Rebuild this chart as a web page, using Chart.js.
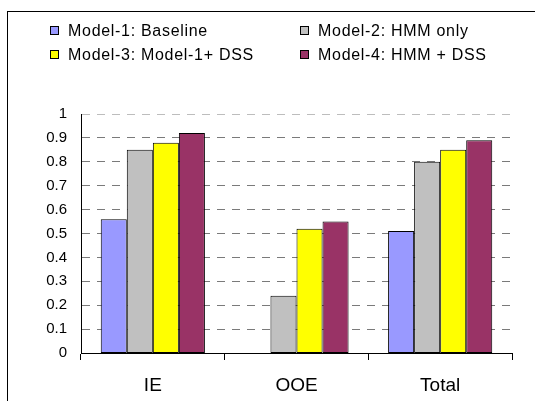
<!DOCTYPE html>
<html>
<head>
<meta charset="utf-8">
<script src="https://cdn.jsdelivr.net/npm/chart.js@4"></script>
<style>
  html, body { margin: 0; padding: 0; background: #fff; overflow: hidden; }
  #wrap { position: relative; width: 535px; height: 401px; font-family: "Liberation Sans", Arial, sans-serif; }
  #cornice { position: absolute; left: 7px; top: 11px; width: 560px; height: 420px; border: 1px solid #000; box-sizing: border-box; }
  #grafico { position: absolute; left: 0; top: 0; }
  .voce { position: absolute; font-size: 16px; color: #000; line-height: 18px; height: 18px; white-space: nowrap; letter-spacing: 0.7px; }
  .voce span { position: absolute; left: 0; top: 4px; width: 9px; height: 9px; border: 1px solid #000; box-sizing: border-box; }
  .voce b { position: absolute; left: 18px; top: 0; font-weight: normal; }
</style>
</head>
<body>
<div id="wrap">
  <div id="cornice"></div>
  <canvas id="grafico" width="535" height="401"></canvas>
  <div id="legenda"></div>
</div>
<script>
// Categorie e valori
const categorie = ['IE', 'OOE', 'Total'];
const nomiModelli = ['Model-1: Baseline', 'Model-2: HMM only', 'Model-3: Model-1+ DSS', 'Model-4: HMM + DSS'];
const model1 = [0.56, 0, 0.51];
const model2 = [0.85, 0.24, 0.80];
const model3 = [0.88, 0.52, 0.85];
const model4 = [0.92, 0.55, 0.89];
const tickY = [0, 0.1, 0.2, 0.3, 0.4, 0.5, 0.6, 0.7, 0.8, 0.9, 1];

const colori = ['#9999FF', '#C0C0C0', '#FFFF00', '#993366'];
const serie = [model1, model2, model3, model4];

//---[ LEGENDA HTML, due colonne ]---
const legenda = document.getElementById('legenda');
const posLegenda = [[50, 22], [300, 22], [50, 46], [300, 46]];
nomiModelli.forEach(function (nome, i) {
    const d = document.createElement('div');
    d.className = 'voce';
    d.style.left = posLegenda[i][0] + 'px';
    d.style.top = posLegenda[i][1] + 'px';
    d.innerHTML = '<span style="background:' + colori[i] + '"></span><b>' + nome + '</b>';
    legenda.appendChild(d);
});

//---[ GRAFICO ]---
const data = {
    labels: categorie,
    datasets: serie.map(function (valori, i) {
        return {
            label: nomiModelli[i],
            data: valori,
            backgroundColor: colori[i],
            borderColor: '#000',
            borderWidth: 1,
            borderSkipped: false,
            categoryPercentage: 0.725,
            barPercentage: 1
        };
    })
};

const options = {
    responsive: false,
    animation: false,
    layout: { padding: { left: 0, top: 114, right: 23, bottom: 0 } },
    plugins: {
        legend: { display: false },
        tooltip: { enabled: false }
    },
    scales: {
        x: {
            grid: {
                offset: true,
                drawOnChartArea: false,
                drawTicks: true,
                tickLength: 7,
                tickColor: '#000',
                tickWidth: 1
            },
            border: { display: true, color: '#000', width: 1 },
            ticks: {
                color: '#000',
                padding: 14,
                font: { family: '"Liberation Sans", Arial, sans-serif', size: 19 }
            },
            afterFit: function (scale) { scale.height = 48; }
        },
        y: {
            min: 0,
            max: 1,
            afterBuildTicks: function (scale) {
                scale.ticks = tickY.map(v => ({ value: v }));
            },
            grid: {
                drawTicks: false,
                color: function (ctx) { return ctx.tick && ctx.tick.value === 1 ? '#BDBDBD' : '#7A7A7A'; },
                lineWidth: function (ctx) { return ctx.tick && ctx.tick.value === 0 ? 0 : 1; }
            },
            // in v4 border.dash tratteggia le linee della griglia
            border: { display: true, color: '#000', width: 1, dash: [8, 7] },
            ticks: {
                color: '#000',
                padding: 14,
                callback: function (v) { return String(v); },
                font: { family: '"Liberation Sans", Arial, sans-serif', size: 15 }
            },
            afterFit: function (scale) { scale.width = 81; }
        }
    }
};

const ctx = document.getElementById('grafico').getContext('2d');
new Chart(ctx, { type: 'bar', data: data, options: options });
</script>
</body>
</html>
